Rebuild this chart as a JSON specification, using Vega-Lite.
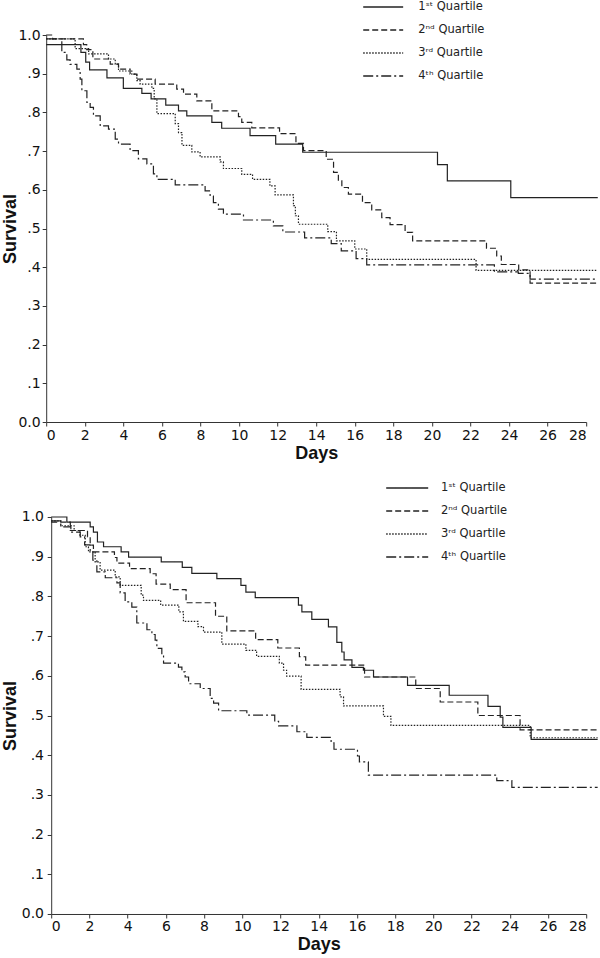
{
  "$schema": "https://vega.github.io/schema/vega-lite/v6.json",
  "background": "white",
  "padding": {"left": 1.2, "top": 0, "right": 0, "bottom": 0},
  "spacing": 19,
  "config": {
    "view": {"stroke": null},
    "font": "DejaVu Sans",
    "axis": {
      "grid": false,
      "domainColor": "#333",
      "tickColor": "#333",
      "tickSize": 4,
      "labelFont": "DejaVu Sans",
      "labelFontSize": 14,
      "labelColor": "#111",
      "labelPadding": 2,
      "titleFont": "Liberation Sans",
      "titleFontSize": 18,
      "titleFontWeight": "bold",
      "titleColor": "#111"
    },
    "legend": {
      "orient": "none",
      "title": null,
      "padding": 0,
      "symbolSize": 144,
      "symbolStrokeWidth": 1.6,
      "symbolStrokeColor": "#222",
      "symbolFillColor": "transparent",
      "labelFont": "DejaVu Sans",
      "labelFontSize": 11.5,
      "labelAlign": "left",
      "labelColor": "#222",
      "rowPadding": 10
    }
  },
  "datasets": {
    "top": [
      {"q": "1ˢᵗ Quartile", "d": 0, "s": 0.975}, {"q": "1ˢᵗ Quartile", "d": 1.8, "s": 0.955}, {"q": "1ˢᵗ Quartile", "d": 2.05, "s": 0.93}, {"q": "1ˢᵗ Quartile", "d": 2.25, "s": 0.91}, {"q": "1ˢᵗ Quartile", "d": 3.15, "s": 0.889}, {"q": "1ˢᵗ Quartile", "d": 4.0, "s": 0.862}, {"q": "1ˢᵗ Quartile", "d": 4.96, "s": 0.849}, {"q": "1ˢᵗ Quartile", "d": 5.44, "s": 0.835}, {"q": "1ˢᵗ Quartile", "d": 6.2, "s": 0.819}, {"q": "1ˢᵗ Quartile", "d": 6.86, "s": 0.804}, {"q": "1ˢᵗ Quartile", "d": 7.29, "s": 0.791}, {"q": "1ˢᵗ Quartile", "d": 8.59, "s": 0.774}, {"q": "1ˢᵗ Quartile", "d": 9.1, "s": 0.759}, {"q": "1ˢᵗ Quartile", "d": 10.57, "s": 0.74}, {"q": "1ˢᵗ Quartile", "d": 11.9, "s": 0.718}, {"q": "1ˢᵗ Quartile", "d": 13.3, "s": 0.697}, {"q": "1ˢᵗ Quartile", "d": 20.29, "s": 0.665}, {"q": "1ˢᵗ Quartile", "d": 20.8, "s": 0.623}, {"q": "1ˢᵗ Quartile", "d": 24.09, "s": 0.58}, {"q": "1ˢᵗ Quartile", "d": 28.6, "s": 0.58},
      {"q": "2ⁿᵈ Quartile", "d": 0, "s": 1.0}, {"q": "2ⁿᵈ Quartile", "d": 0.33, "s": 0.99}, {"q": "2ⁿᵈ Quartile", "d": 1.93, "s": 0.975}, {"q": "2ⁿᵈ Quartile", "d": 2.1, "s": 0.962}, {"q": "2ⁿᵈ Quartile", "d": 2.42, "s": 0.938}, {"q": "2ⁿᵈ Quartile", "d": 3.32, "s": 0.925}, {"q": "2ⁿᵈ Quartile", "d": 3.75, "s": 0.912}, {"q": "2ⁿᵈ Quartile", "d": 4.35, "s": 0.899}, {"q": "2ⁿᵈ Quartile", "d": 4.7, "s": 0.886}, {"q": "2ⁿᵈ Quartile", "d": 5.65, "s": 0.873}, {"q": "2ⁿᵈ Quartile", "d": 6.77, "s": 0.86}, {"q": "2ⁿᵈ Quartile", "d": 7.12, "s": 0.847}, {"q": "2ⁿᵈ Quartile", "d": 7.81, "s": 0.83}, {"q": "2ⁿᵈ Quartile", "d": 8.59, "s": 0.804}, {"q": "2ⁿᵈ Quartile", "d": 9.97, "s": 0.789}, {"q": "2ⁿᵈ Quartile", "d": 10.14, "s": 0.774}, {"q": "2ⁿᵈ Quartile", "d": 10.66, "s": 0.76}, {"q": "2ⁿᵈ Quartile", "d": 12.1, "s": 0.745}, {"q": "2ⁿᵈ Quartile", "d": 12.95, "s": 0.72}, {"q": "2ⁿᵈ Quartile", "d": 13.34, "s": 0.701}, {"q": "2ⁿᵈ Quartile", "d": 14.52, "s": 0.679}, {"q": "2ⁿᵈ Quartile", "d": 14.9, "s": 0.645}, {"q": "2ⁿᵈ Quartile", "d": 15.15, "s": 0.623}, {"q": "2ⁿᵈ Quartile", "d": 15.33, "s": 0.606}, {"q": "2ⁿᵈ Quartile", "d": 15.67, "s": 0.589}, {"q": "2ⁿᵈ Quartile", "d": 16.4, "s": 0.567}, {"q": "2ⁿᵈ Quartile", "d": 16.88, "s": 0.548}, {"q": "2ⁿᵈ Quartile", "d": 17.4, "s": 0.528}, {"q": "2ⁿᵈ Quartile", "d": 17.83, "s": 0.51}, {"q": "2ⁿᵈ Quartile", "d": 18.61, "s": 0.49}, {"q": "2ⁿᵈ Quartile", "d": 19.0, "s": 0.468}, {"q": "2ⁿᵈ Quartile", "d": 22.83, "s": 0.449}, {"q": "2ⁿᵈ Quartile", "d": 23.36, "s": 0.429}, {"q": "2ⁿᵈ Quartile", "d": 23.6, "s": 0.407}, {"q": "2ⁿᵈ Quartile", "d": 24.5, "s": 0.393}, {"q": "2ⁿᵈ Quartile", "d": 25.09, "s": 0.359}, {"q": "2ⁿᵈ Quartile", "d": 28.6, "s": 0.359},
      {"q": "3ʳᵈ Quartile", "d": 0, "s": 0.99}, {"q": "3ʳᵈ Quartile", "d": 1.5, "s": 0.965}, {"q": "3ʳᵈ Quartile", "d": 2.2, "s": 0.951}, {"q": "3ʳᵈ Quartile", "d": 3.23, "s": 0.938}, {"q": "3ʳᵈ Quartile", "d": 3.58, "s": 0.925}, {"q": "3ʳᵈ Quartile", "d": 3.75, "s": 0.907}, {"q": "3ʳᵈ Quartile", "d": 4.44, "s": 0.899}, {"q": "3ʳᵈ Quartile", "d": 4.7, "s": 0.882}, {"q": "3ʳᵈ Quartile", "d": 4.87, "s": 0.873}, {"q": "3ʳᵈ Quartile", "d": 5.48, "s": 0.862}, {"q": "3ʳᵈ Quartile", "d": 5.6, "s": 0.835}, {"q": "3ʳᵈ Quartile", "d": 5.74, "s": 0.797}, {"q": "3ʳᵈ Quartile", "d": 6.69, "s": 0.771}, {"q": "3ʳᵈ Quartile", "d": 6.86, "s": 0.748}, {"q": "3ʳᵈ Quartile", "d": 7.04, "s": 0.715}, {"q": "3ʳᵈ Quartile", "d": 7.55, "s": 0.698}, {"q": "3ʳᵈ Quartile", "d": 7.98, "s": 0.685}, {"q": "3ʳᵈ Quartile", "d": 9.02, "s": 0.672}, {"q": "3ʳᵈ Quartile", "d": 9.19, "s": 0.655}, {"q": "3ʳᵈ Quartile", "d": 10.14, "s": 0.64}, {"q": "3ʳᵈ Quartile", "d": 10.7, "s": 0.627}, {"q": "3ʳᵈ Quartile", "d": 11.6, "s": 0.61}, {"q": "3ʳᵈ Quartile", "d": 11.87, "s": 0.587}, {"q": "3ʳᵈ Quartile", "d": 12.82, "s": 0.559}, {"q": "3ʳᵈ Quartile", "d": 12.92, "s": 0.533}, {"q": "3ʳᵈ Quartile", "d": 13.08, "s": 0.511}, {"q": "3ʳᵈ Quartile", "d": 14.6, "s": 0.492}, {"q": "3ʳᵈ Quartile", "d": 15.05, "s": 0.468}, {"q": "3ʳᵈ Quartile", "d": 16.0, "s": 0.447}, {"q": "3ʳᵈ Quartile", "d": 16.62, "s": 0.42}, {"q": "3ʳᵈ Quartile", "d": 22.29, "s": 0.392}, {"q": "3ʳᵈ Quartile", "d": 28.6, "s": 0.392},
      {"q": "4ᵗʰ Quartile", "d": 0, "s": 0.99}, {"q": "4ᵗʰ Quartile", "d": 0.81, "s": 0.955}, {"q": "4ᵗʰ Quartile", "d": 1.07, "s": 0.936}, {"q": "4ᵗʰ Quartile", "d": 1.24, "s": 0.924}, {"q": "4ᵗʰ Quartile", "d": 1.59, "s": 0.912}, {"q": "4ᵗʰ Quartile", "d": 1.76, "s": 0.886}, {"q": "4ᵗʰ Quartile", "d": 1.85, "s": 0.856}, {"q": "4ᵗʰ Quartile", "d": 2.11, "s": 0.826}, {"q": "4ᵗʰ Quartile", "d": 2.28, "s": 0.813}, {"q": "4ᵗʰ Quartile", "d": 2.45, "s": 0.791}, {"q": "4ᵗʰ Quartile", "d": 2.8, "s": 0.765}, {"q": "4ᵗʰ Quartile", "d": 3.23, "s": 0.757}, {"q": "4ᵗʰ Quartile", "d": 3.58, "s": 0.731}, {"q": "4ᵗʰ Quartile", "d": 3.75, "s": 0.718}, {"q": "4ᵗʰ Quartile", "d": 4.35, "s": 0.701}, {"q": "4ᵗʰ Quartile", "d": 4.78, "s": 0.68}, {"q": "4ᵗʰ Quartile", "d": 5.22, "s": 0.667}, {"q": "4ᵗʰ Quartile", "d": 5.56, "s": 0.641}, {"q": "4ᵗʰ Quartile", "d": 5.74, "s": 0.627}, {"q": "4ᵗʰ Quartile", "d": 6.69, "s": 0.613}, {"q": "4ᵗʰ Quartile", "d": 8.24, "s": 0.597}, {"q": "4ᵗʰ Quartile", "d": 8.5, "s": 0.584}, {"q": "4ᵗʰ Quartile", "d": 8.67, "s": 0.567}, {"q": "4ᵗʰ Quartile", "d": 8.93, "s": 0.55}, {"q": "4ᵗʰ Quartile", "d": 9.19, "s": 0.537}, {"q": "4ᵗʰ Quartile", "d": 10.23, "s": 0.522}, {"q": "4ᵗʰ Quartile", "d": 11.78, "s": 0.507}, {"q": "4ᵗʰ Quartile", "d": 12.27, "s": 0.491}, {"q": "4ᵗʰ Quartile", "d": 13.4, "s": 0.476}, {"q": "4ᵗʰ Quartile", "d": 14.78, "s": 0.461}, {"q": "4ᵗʰ Quartile", "d": 15.3, "s": 0.442}, {"q": "4ᵗʰ Quartile", "d": 16.07, "s": 0.422}, {"q": "4ᵗʰ Quartile", "d": 16.62, "s": 0.406}, {"q": "4ᵗʰ Quartile", "d": 23.24, "s": 0.388}, {"q": "4ᵗʰ Quartile", "d": 24.48, "s": 0.384}, {"q": "4ᵗʰ Quartile", "d": 25.09, "s": 0.369}, {"q": "4ᵗʰ Quartile", "d": 28.6, "s": 0.369}
    ],
    "bottom": [
      {"q": "1ˢᵗ Quartile", "d": 0, "s": 1.0}, {"q": "1ˢᵗ Quartile", "d": 0.82, "s": 0.987}, {"q": "1ˢᵗ Quartile", "d": 2.04, "s": 0.975}, {"q": "1ˢᵗ Quartile", "d": 2.21, "s": 0.962}, {"q": "1ˢᵗ Quartile", "d": 2.42, "s": 0.937}, {"q": "1ˢᵗ Quartile", "d": 2.74, "s": 0.925}, {"q": "1ˢᵗ Quartile", "d": 3.66, "s": 0.912}, {"q": "1ˢᵗ Quartile", "d": 4.05, "s": 0.899}, {"q": "1ˢᵗ Quartile", "d": 5.76, "s": 0.887}, {"q": "1ˢᵗ Quartile", "d": 6.86, "s": 0.873}, {"q": "1ˢᵗ Quartile", "d": 7.36, "s": 0.858}, {"q": "1ˢᵗ Quartile", "d": 8.67, "s": 0.845}, {"q": "1ˢᵗ Quartile", "d": 9.93, "s": 0.828}, {"q": "1ˢᵗ Quartile", "d": 10.19, "s": 0.811}, {"q": "1ˢᵗ Quartile", "d": 10.68, "s": 0.797}, {"q": "1ˢᵗ Quartile", "d": 12.94, "s": 0.778}, {"q": "1ˢᵗ Quartile", "d": 13.12, "s": 0.761}, {"q": "1ˢᵗ Quartile", "d": 13.64, "s": 0.742}, {"q": "1ˢᵗ Quartile", "d": 14.51, "s": 0.723}, {"q": "1ˢᵗ Quartile", "d": 14.95, "s": 0.684}, {"q": "1ˢᵗ Quartile", "d": 15.21, "s": 0.66}, {"q": "1ˢᵗ Quartile", "d": 15.33, "s": 0.64}, {"q": "1ˢᵗ Quartile", "d": 15.74, "s": 0.621}, {"q": "1ˢᵗ Quartile", "d": 16.34, "s": 0.614}, {"q": "1ˢᵗ Quartile", "d": 16.87, "s": 0.597}, {"q": "1ˢᵗ Quartile", "d": 18.65, "s": 0.576}, {"q": "1ˢᵗ Quartile", "d": 20.83, "s": 0.551}, {"q": "1ˢᵗ Quartile", "d": 22.86, "s": 0.523}, {"q": "1ˢᵗ Quartile", "d": 23.5, "s": 0.496}, {"q": "1ˢᵗ Quartile", "d": 23.64, "s": 0.47}, {"q": "1ˢᵗ Quartile", "d": 25.12, "s": 0.44}, {"q": "1ˢᵗ Quartile", "d": 28.6, "s": 0.44},
      {"q": "2ⁿᵈ Quartile", "d": 0, "s": 0.987}, {"q": "2ⁿᵈ Quartile", "d": 1.0, "s": 0.966}, {"q": "2ⁿᵈ Quartile", "d": 1.9, "s": 0.95}, {"q": "2ⁿᵈ Quartile", "d": 2.04, "s": 0.929}, {"q": "2ⁿᵈ Quartile", "d": 2.21, "s": 0.912}, {"q": "2ⁿᵈ Quartile", "d": 3.31, "s": 0.898}, {"q": "2ⁿᵈ Quartile", "d": 3.44, "s": 0.884}, {"q": "2ⁿᵈ Quartile", "d": 4.1, "s": 0.87}, {"q": "2ⁿᵈ Quartile", "d": 5.18, "s": 0.857}, {"q": "2ⁿᵈ Quartile", "d": 5.49, "s": 0.831}, {"q": "2ⁿᵈ Quartile", "d": 6.23, "s": 0.817}, {"q": "2ⁿᵈ Quartile", "d": 7.06, "s": 0.784}, {"q": "2ⁿᵈ Quartile", "d": 8.6, "s": 0.75}, {"q": "2ⁿᵈ Quartile", "d": 9.19, "s": 0.713}, {"q": "2ⁿᵈ Quartile", "d": 10.7, "s": 0.691}, {"q": "2ⁿᵈ Quartile", "d": 11.86, "s": 0.67}, {"q": "2ⁿᵈ Quartile", "d": 12.99, "s": 0.648}, {"q": "2ⁿᵈ Quartile", "d": 13.32, "s": 0.627}, {"q": "2ⁿᵈ Quartile", "d": 16.4, "s": 0.597}, {"q": "2ⁿᵈ Quartile", "d": 19.08, "s": 0.568}, {"q": "2ⁿᵈ Quartile", "d": 20.36, "s": 0.534}, {"q": "2ⁿᵈ Quartile", "d": 22.33, "s": 0.5}, {"q": "2ⁿᵈ Quartile", "d": 24.54, "s": 0.464}, {"q": "2ⁿᵈ Quartile", "d": 28.6, "s": 0.464},
      {"q": "3ʳᵈ Quartile", "d": 0, "s": 0.99}, {"q": "3ʳᵈ Quartile", "d": 0.5, "s": 0.978}, {"q": "3ʳᵈ Quartile", "d": 1.2, "s": 0.966}, {"q": "3ʳᵈ Quartile", "d": 1.5, "s": 0.954}, {"q": "3ʳᵈ Quartile", "d": 1.78, "s": 0.925}, {"q": "3ʳᵈ Quartile", "d": 1.95, "s": 0.912}, {"q": "3ʳᵈ Quartile", "d": 2.3, "s": 0.887}, {"q": "3ʳᵈ Quartile", "d": 2.56, "s": 0.866}, {"q": "3ʳᵈ Quartile", "d": 3.35, "s": 0.849}, {"q": "3ʳᵈ Quartile", "d": 3.61, "s": 0.828}, {"q": "3ʳᵈ Quartile", "d": 4.71, "s": 0.803}, {"q": "3ʳᵈ Quartile", "d": 4.83, "s": 0.79}, {"q": "3ʳᵈ Quartile", "d": 5.73, "s": 0.778}, {"q": "3ʳᵈ Quartile", "d": 6.68, "s": 0.761}, {"q": "3ʳᵈ Quartile", "d": 6.92, "s": 0.737}, {"q": "3ʳᵈ Quartile", "d": 7.68, "s": 0.724}, {"q": "3ʳᵈ Quartile", "d": 7.97, "s": 0.71}, {"q": "3ʳᵈ Quartile", "d": 8.93, "s": 0.68}, {"q": "3ʳᵈ Quartile", "d": 10.19, "s": 0.664}, {"q": "3ʳᵈ Quartile", "d": 10.75, "s": 0.649}, {"q": "3ʳᵈ Quartile", "d": 11.94, "s": 0.632}, {"q": "3ʳᵈ Quartile", "d": 12.16, "s": 0.614}, {"q": "3ʳᵈ Quartile", "d": 12.32, "s": 0.599}, {"q": "3ʳᵈ Quartile", "d": 13.08, "s": 0.566}, {"q": "3ʳᵈ Quartile", "d": 15.12, "s": 0.547}, {"q": "3ʳᵈ Quartile", "d": 15.3, "s": 0.524}, {"q": "3ʳᵈ Quartile", "d": 17.39, "s": 0.498}, {"q": "3ʳᵈ Quartile", "d": 17.78, "s": 0.475}, {"q": "3ʳᵈ Quartile", "d": 25.07, "s": 0.444}, {"q": "3ʳᵈ Quartile", "d": 28.6, "s": 0.444},
      {"q": "4ᵗʰ Quartile", "d": 0, "s": 0.99}, {"q": "4ᵗʰ Quartile", "d": 0.5, "s": 0.975}, {"q": "4ᵗʰ Quartile", "d": 1.03, "s": 0.962}, {"q": "4ᵗʰ Quartile", "d": 1.52, "s": 0.95}, {"q": "4ᵗʰ Quartile", "d": 1.75, "s": 0.93}, {"q": "4ᵗʰ Quartile", "d": 2.04, "s": 0.912}, {"q": "4ᵗʰ Quartile", "d": 2.18, "s": 0.891}, {"q": "4ᵗʰ Quartile", "d": 2.39, "s": 0.862}, {"q": "4ᵗʰ Quartile", "d": 2.83, "s": 0.847}, {"q": "4ᵗʰ Quartile", "d": 3.44, "s": 0.834}, {"q": "4ᵗʰ Quartile", "d": 3.61, "s": 0.809}, {"q": "4ᵗʰ Quartile", "d": 3.87, "s": 0.786}, {"q": "4ᵗʰ Quartile", "d": 4.22, "s": 0.773}, {"q": "4ᵗʰ Quartile", "d": 4.48, "s": 0.733}, {"q": "4ᵗʰ Quartile", "d": 5.01, "s": 0.716}, {"q": "4ᵗʰ Quartile", "d": 5.27, "s": 0.704}, {"q": "4ᵗʰ Quartile", "d": 5.44, "s": 0.69}, {"q": "4ᵗʰ Quartile", "d": 5.53, "s": 0.669}, {"q": "4ᵗʰ Quartile", "d": 5.79, "s": 0.652}, {"q": "4ᵗʰ Quartile", "d": 5.88, "s": 0.632}, {"q": "4ᵗʰ Quartile", "d": 6.66, "s": 0.622}, {"q": "4ᵗʰ Quartile", "d": 6.84, "s": 0.61}, {"q": "4ᵗʰ Quartile", "d": 7.01, "s": 0.597}, {"q": "4ᵗʰ Quartile", "d": 7.19, "s": 0.58}, {"q": "4ᵗʰ Quartile", "d": 7.8, "s": 0.568}, {"q": "4ᵗʰ Quartile", "d": 8.32, "s": 0.543}, {"q": "4ᵗʰ Quartile", "d": 8.5, "s": 0.531}, {"q": "4ᵗʰ Quartile", "d": 8.76, "s": 0.512}, {"q": "4ᵗʰ Quartile", "d": 10.24, "s": 0.501}, {"q": "4ᵗʰ Quartile", "d": 11.7, "s": 0.485}, {"q": "4ᵗʰ Quartile", "d": 11.9, "s": 0.474}, {"q": "4ᵗʰ Quartile", "d": 12.86, "s": 0.459}, {"q": "4ᵗʰ Quartile", "d": 13.38, "s": 0.445}, {"q": "4ᵗʰ Quartile", "d": 14.65, "s": 0.431}, {"q": "4ᵗʰ Quartile", "d": 14.8, "s": 0.415}, {"q": "4ᵗʰ Quartile", "d": 16.03, "s": 0.398}, {"q": "4ᵗʰ Quartile", "d": 16.13, "s": 0.383}, {"q": "4ᵗʰ Quartile", "d": 16.6, "s": 0.35}, {"q": "4ᵗʰ Quartile", "d": 23.32, "s": 0.336}, {"q": "4ᵗʰ Quartile", "d": 24.11, "s": 0.319}, {"q": "4ᵗʰ Quartile", "d": 28.6, "s": 0.319}
    ]
  },
  "resolve": {"scale": {"strokeDash": "independent"}, "legend": {"strokeDash": "independent"}},
  "vconcat": [
    {
      "data": {"name": "top"},
      "width": 540,
      "height": 387,
      "mark": {"type": "line", "interpolate": "step-after", "stroke": "#222", "strokeWidth": 1.2, "clip": false},
      "encoding": {
        "x": {"field": "d", "type": "quantitative", "scale": {"domain": [0, 28], "nice": false},
          "axis": {"title": "Days", "values": [0,2,4,6,8,10,12,14,16,18,20,22,24,26,28], "titlePadding": 2}},
        "y": {"field": "s", "type": "quantitative", "scale": {"domain": [0, 1], "nice": false},
          "axis": {"title": "Survival", "values": [0,0.1,0.2,0.3,0.4,0.5,0.6,0.7,0.8,0.9,1], "titlePadding": -1.7,
            "labelExpr": "datum.value == 0 ? '0.0' : datum.value == 1 ? '1.0' : replace(format(datum.value, '.1f'), '0.', '.')"}},
        "strokeDash": {"field": "q", "type": "nominal",
          "scale": {"domain": ["1ˢᵗ Quartile", "2ⁿᵈ Quartile", "3ʳᵈ Quartile", "4ᵗʰ Quartile"], "range": [[1, 0], [6, 3], [1.5, 1.5], [10, 3, 2, 3]]},
          "legend": {"legendX": 330, "legendY": -35, "labelOffset": 28, "symbolType": "M-3.33,0H3.33"}}
      }
    },
    {
      "data": {"name": "bottom"},
      "width": 540,
      "height": 397,
      "mark": {"type": "line", "interpolate": "step-after", "stroke": "#222", "strokeWidth": 1.2, "clip": false},
      "encoding": {
        "x": {"field": "d", "type": "quantitative", "scale": {"domain": [0, 28], "nice": false, "range": [5, 540]},
          "axis": {"title": "Days", "values": [0,2,4,6,8,10,12,14,16,18,20,22,24,26,28], "titlePadding": 2}},
        "y": {"field": "s", "type": "quantitative", "scale": {"domain": [0, 1], "nice": false},
          "axis": {"title": "Survival", "values": [0,0.1,0.2,0.3,0.4,0.5,0.6,0.7,0.8,0.9,1], "titlePadding": 1.6, "labelPadding": 3.7, "offset": -5,
            "labelExpr": "datum.value == 0 ? '0.0' : datum.value == 1 ? '1.0' : replace(format(datum.value, '.1f'), '0.', '.')"}},
        "strokeDash": {"field": "q", "type": "nominal",
          "scale": {"domain": ["1ˢᵗ Quartile", "2ⁿᵈ Quartile", "3ʳᵈ Quartile", "4ᵗʰ Quartile"], "range": [[1, 0], [6, 3], [1.5, 1.5], [10, 3, 2, 3]]},
          "legend": {"legendX": 354, "legendY": -36, "labelOffset": 26.7, "symbolType": "M-3.5,0H3.5"}}
      }
    }
  ]
}
